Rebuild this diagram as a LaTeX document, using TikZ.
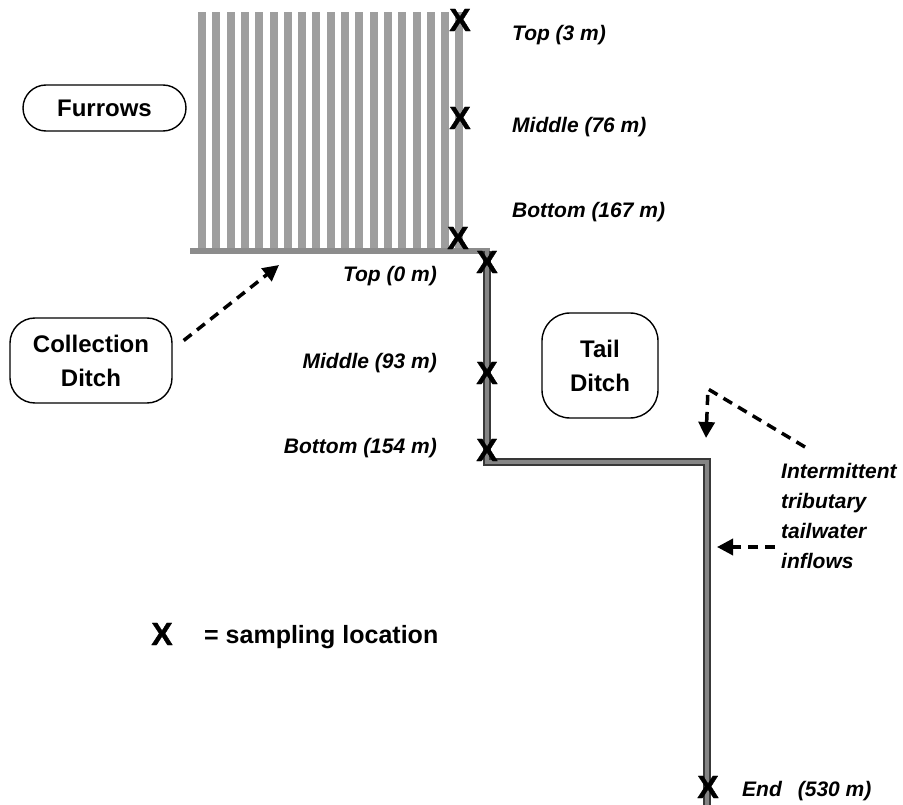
\documentclass[tikz,border=0pt]{standalone}
\usepackage{fontspec}
\setmainfont{Liberation Sans}
\newfontfamily\markfont{Liberation Sans Bold}[FakeBold=1.2]
\usetikzlibrary{arrows.meta}
\tikzset{
  furrow/.style={fill=black!38, draw=none},
  band/.style={line width=6pt, draw=black!45},
  ditchedge/.style={line width=8pt, draw=black!78},
  ditchcore/.style={line width=4pt, draw=black!48},
  xmark/.style={font=\fontsize{32}{32}\markfont, inner sep=0pt},
  lbl/.style={font=\fontsize{21}{30}\selectfont\bfseries\itshape, inner sep=0pt},
  namebox/.style={draw, line width=1.4pt, font=\fontsize{24}{34}\selectfont\bfseries,
    align=center, inner sep=0pt},
  flow/.style={line width=3.5pt, dash pattern=on 10pt off 7pt,
    -{Triangle[length=16pt,width=16pt]}},
}
\begin{document}
\begin{tikzpicture}[x=1pt,y=-1pt]
  \useasboundingbox (0,0) rectangle (903,805);

  % furrow stripes of the field
  \foreach \i in {0,...,18}
    \fill[furrow] ({198+14.3*\i},12) rectangle ({206+14.3*\i},251);
  % collection ditch along the foot of the furrows
  \draw[band] (190,251.5) -- (490,251.5);

  % tail ditch
  \draw[ditchedge] (487,251) -- (487,462) -- (707,462) -- (707,810);
  \draw[ditchcore] (487,251) -- (487,462) -- (707,462) -- (707,810);

  % sampling locations
  \node[xmark] (ftop) at (460,20) {X};
  \node[xmark] (fmid) at (460,118) {X};
  \node[xmark] (fbot) at (458,238) {X};
  \node[xmark] (dtop) at (487,262) {X};
  \node[xmark] (dmid) at (487,373) {X};
  \node[xmark] (dbot) at (487,450) {X};
  \node[xmark] (dend) at (708,787) {X};

  % location labels
  \node[lbl, anchor=base west] (lftop) at (512,41) {Top (3 m)};
  \node[lbl, anchor=base west] (lfmid) at (512,133) {Middle (76 m)};
  \node[lbl, anchor=base west] (lfbot) at (512,218) {Bottom (167 m)};
  \node[lbl, anchor=base east] (ldtop) at (437,282) {Top (0 m)};
  \node[lbl, anchor=base east] (ldmid) at (437,368) {Middle (93 m)};
  \node[lbl, anchor=base east] (ldbot) at (437,453) {Bottom (154 m)};
  \node[lbl, anchor=base west] (ldend) at (742,796) {End\hspace{16pt}(530 m)};

  % named parts
  \node[namebox, rounded corners=23pt, minimum width=163pt, minimum height=46pt]
    (furrows) at (104.5,108) {Furrows};
  \node[namebox, rounded corners=25pt, minimum width=162pt, minimum height=85pt]
    (coll) at (91,360.5) {Collection\\Ditch};
  \node[namebox, rounded corners=28pt, minimum width=116pt, minimum height=105pt]
    (tail) at (600,365.5) {Tail\\Ditch};

  % inflow note
  \node[lbl, anchor=north west, align=left] (inflow) at (781,463)
    {Intermittent\\tributary\\tailwater\\inflows};

  % arrows
  \coordinate (ctip) at (279,265);
  \draw[flow] ([shift={(11,-20)}]coll.east) -- (ctip);
  \coordinate (ibend) at (708,389);
  \coordinate (itip) at (706,438);
  \draw[flow] ([shift={(24,-16)}]inflow.north west) -- (ibend) -- (itip);
  \coordinate (itip2) at (717,547);
  \draw[flow] ([shift={(-6,0)}]inflow.west |- itip2) -- (itip2);

  % legend
  \node[xmark] (legx) at (162,634) {X};
  \node[font=\fontsize{25}{30}\selectfont\bfseries, anchor=base west, inner sep=0pt]
    (legtxt) at (204,643) {= sampling location};
\end{tikzpicture}
\end{document}
